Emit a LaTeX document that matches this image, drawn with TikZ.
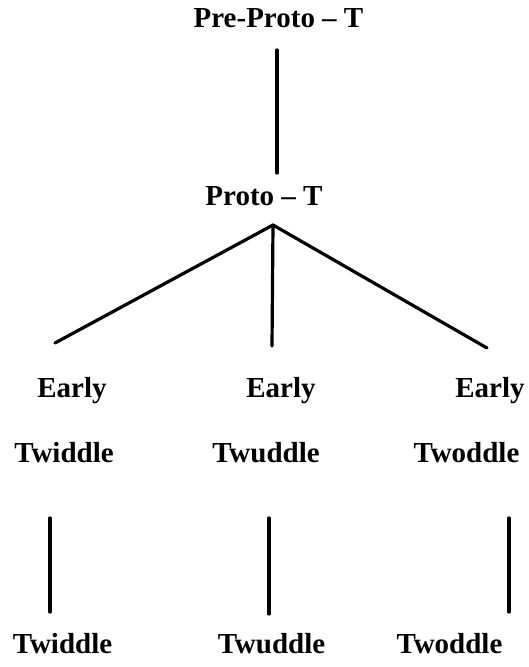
\documentclass[tikz,border=0pt]{standalone}
\usepackage{fontspec}
\setmainfont{Liberation Serif}
\begin{document}
\begin{tikzpicture}[x=1pt,y=-1pt,
  lbl/.style={anchor=base,inner sep=0pt,font=\bfseries\fontsize{29}{35}\selectfont},
  edge/.style={line width=3.2pt,line cap=round}]
\useasboundingbox[fill=white] (0,0) rectangle (528,667);
% labels
\node[lbl] (pre) at (278.5,27) {Pre-Proto -- T};
\node[lbl] (proto) at (264,205) {Proto -- T};
\node[lbl] (e1) at (72,397) {Early};
\node[lbl] (e2) at (281,397) {Early};
\node[lbl] (e3) at (490,397) {Early};
\node[lbl] (t1) at (64,462) {Twiddle};
\node[lbl] (t2) at (266,462) {Twuddle};
\node[lbl] (t3) at (466.5,462) {Twoddle};
\node[lbl] (b1) at (62.5,653) {Twiddle};
\node[lbl] (b2) at (271.5,653) {Twuddle};
\node[lbl] (b3) at (449.5,653) {Twoddle};
% connector ends
\coordinate (preB) at (277,50);
\coordinate (protoT) at (277,173);
\coordinate (apex) at (273,225);
\coordinate (l1) at (55,343);
\coordinate (l2) at (272,346);
\coordinate (l3) at (487,348);
\coordinate (t1b) at (50,518);
\coordinate (b1t) at (50,612);
\coordinate (t2b) at (269,518);
\coordinate (b2t) at (269,614);
\coordinate (t3b) at (509,518);
\coordinate (b3t) at (509,612);
% connectors
\draw[edge] (preB) -- (protoT);
\draw[edge] (apex) -- (l1);
\draw[edge] (apex) -- (l2);
\draw[edge] (apex) -- (l3);
\draw[edge] (t1b) -- (b1t);
\draw[edge] (t2b) -- (b2t);
\draw[edge] (t3b) -- (b3t);
\end{tikzpicture}
\end{document}
